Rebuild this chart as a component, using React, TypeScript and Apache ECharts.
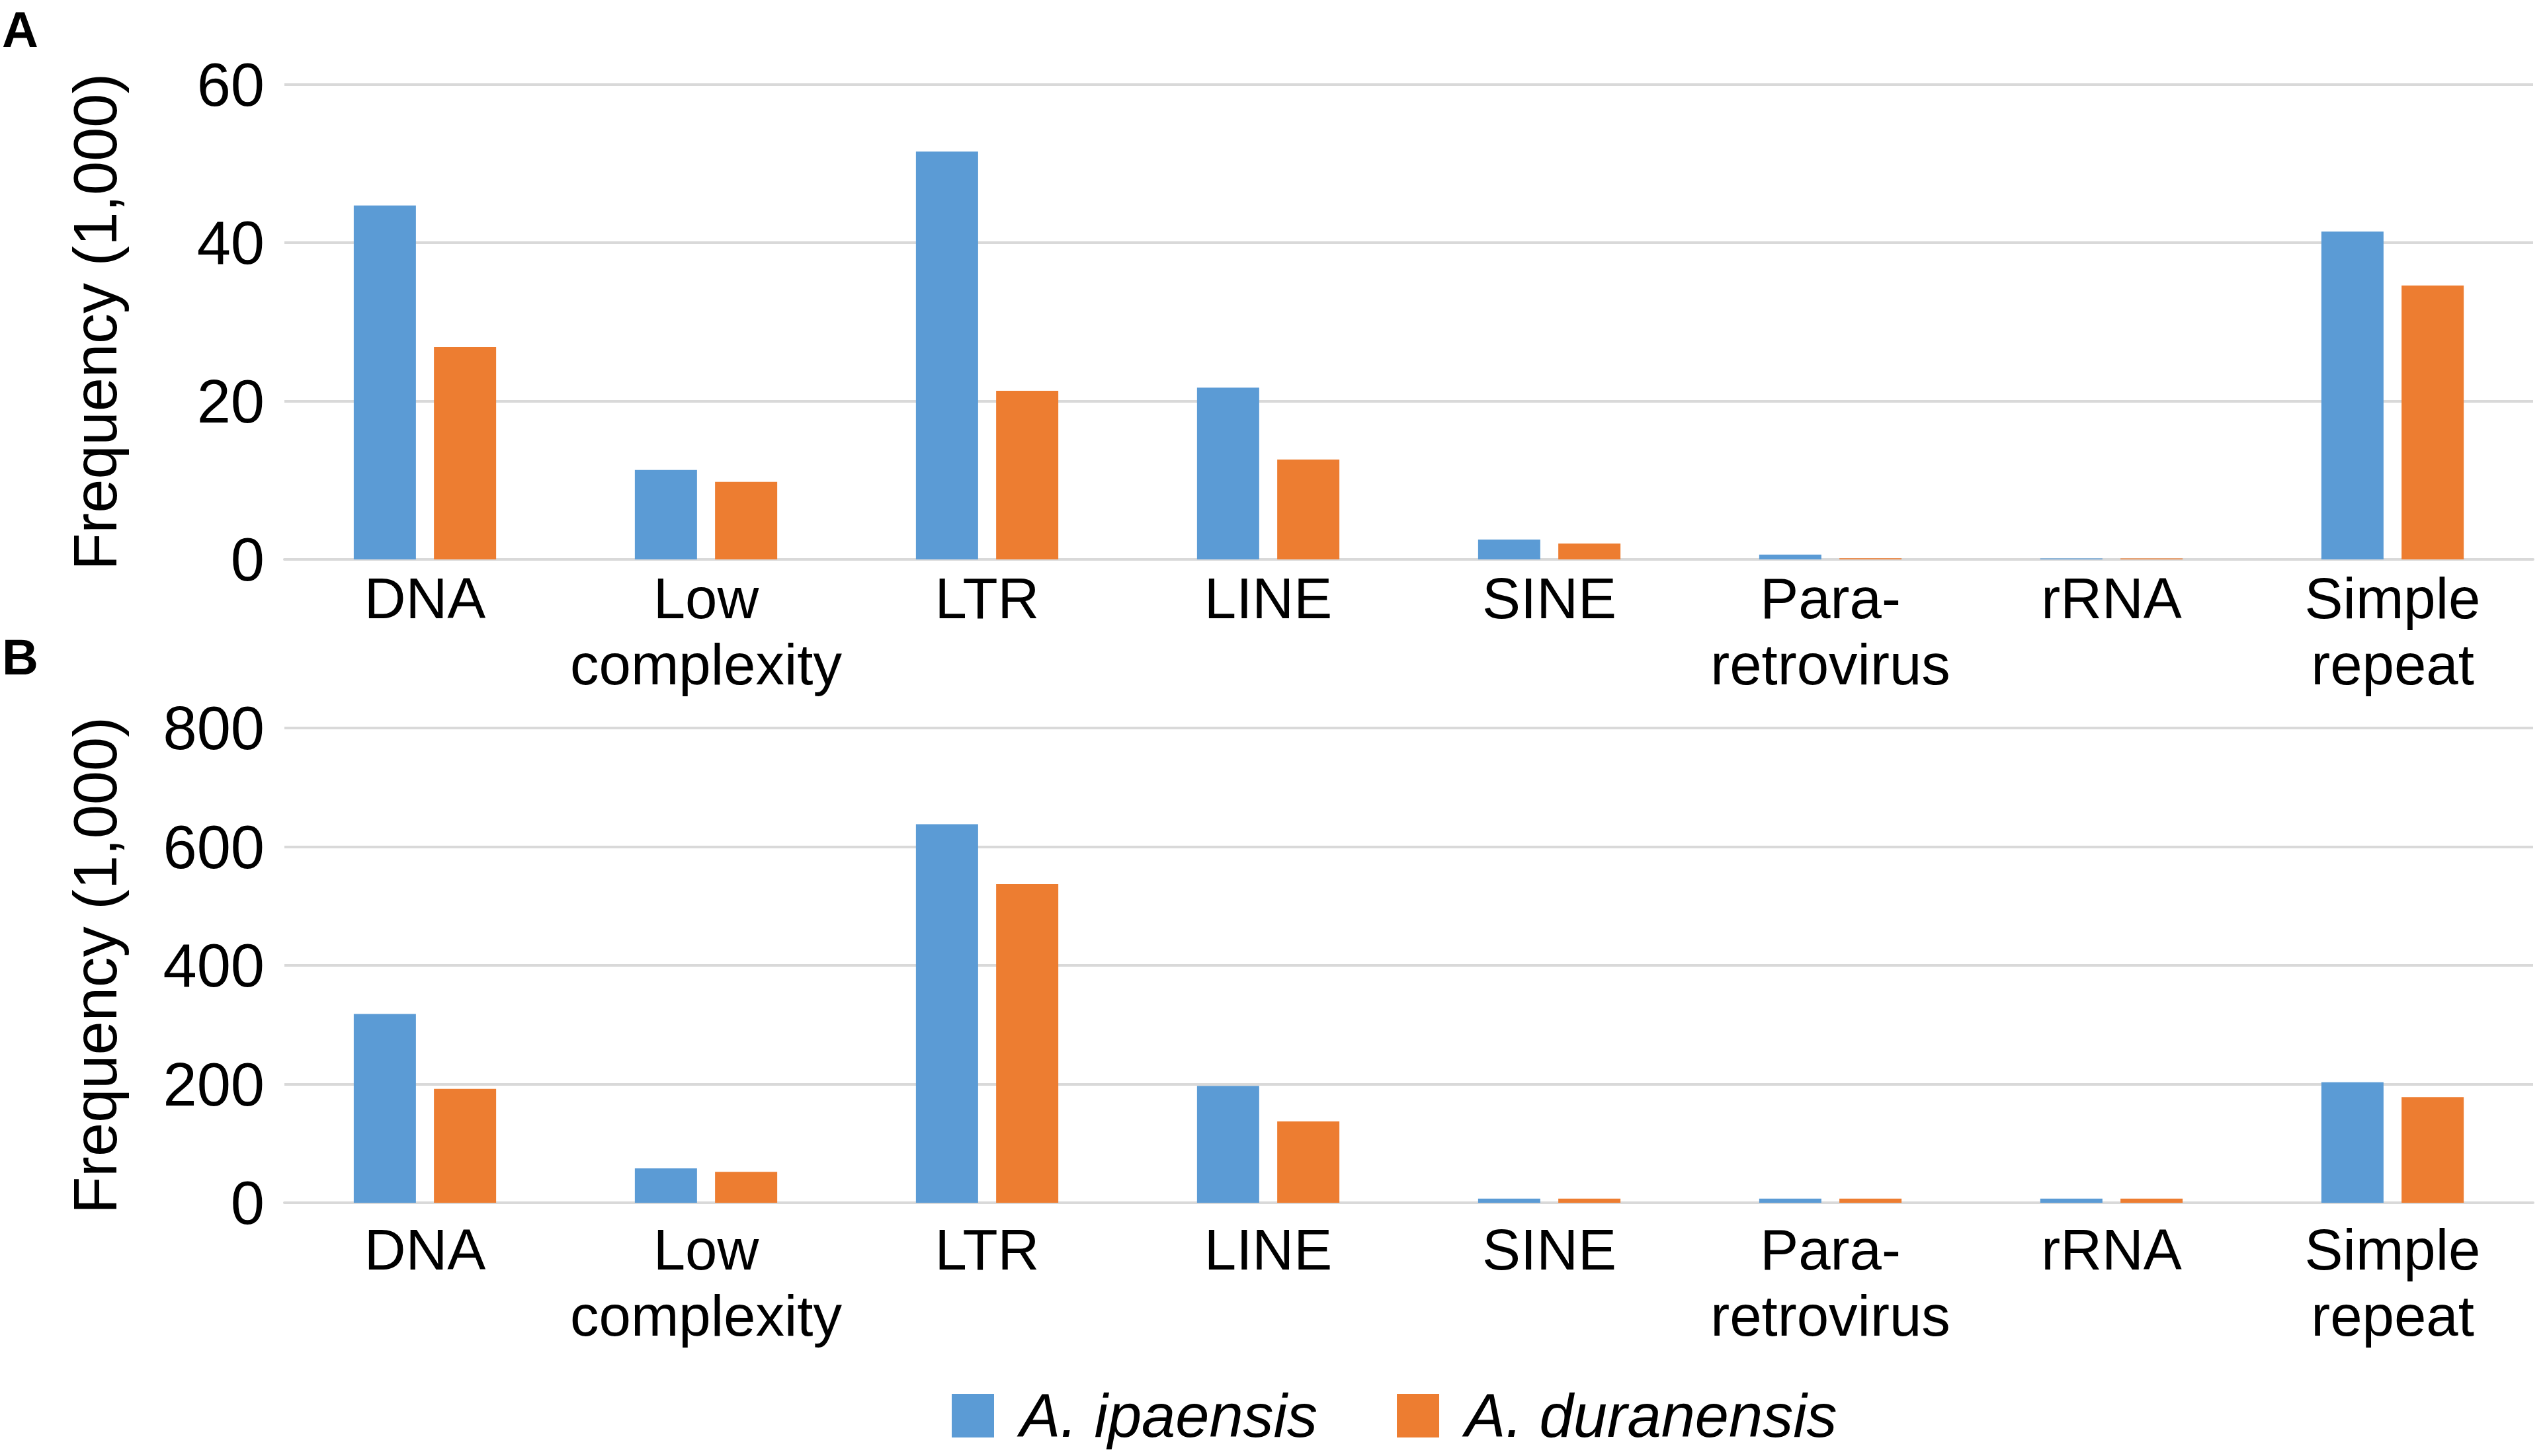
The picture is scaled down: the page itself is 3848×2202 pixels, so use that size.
import React, { useEffect, useRef } from "react";
import * as echarts from "echarts";

const categories = [
  "DNA",
  "Low\ncomplexity",
  "LTR",
  "LINE",
  "SINE",
  "Para-\nretrovirus",
  "rRNA",
  "Simple\nrepeat",
];
const seriesNames = ["A. ipaensis", "A. duranensis"];
const panelAIpaensis = [44.7, 11.3, 51.5, 21.7, 2.5, 0.6, 0.12, 41.4];
const panelADuranensis = [26.8, 9.8, 21.3, 12.6, 2.0, 0.15, 0.12, 34.6];
const panelBIpaensis = [318, 58, 638, 197, 7, 7, 7, 203];
const panelBDuranensis = [192, 52, 537, 137, 7, 7, 7, 178];
const panelATicks = { min: 0, max: 60, interval: 20 };
const panelBTicks = { min: 0, max: 800, interval: 200 };
const yTitle = "Frequency (1,000)";
const panelLabels = ["A", "B"];

const BLUE = "#5B9BD5";
const ORANGE = "#ED7D31";
const GRID = "#D9D9D9";
const FONT = "'Liberation Sans', Arial, Helvetica, sans-serif";

export default function App() {
  const ref = useRef<HTMLDivElement>(null);
  useEffect(() => {
    if (!ref.current) return;
    const chart = echarts.init(ref.current, undefined, { renderer: "svg" });
    const xAxisCommon = (gridIndex: number, margin: number) => ({
      type: "category",
      gridIndex,
      data: categories,
      axisTick: { show: false },
      axisLine: { show: true, lineStyle: { color: GRID, width: 4 } },
      axisLabel: {
        color: "#000",
        fontSize: 87,
        lineHeight: 100,
        margin,
        fontFamily: FONT,
        interval: 0,
      },
    });
    const yAxisCommon = (gridIndex: number, ticks: any) => ({
      type: "value",
      gridIndex,
      min: ticks.min,
      max: ticks.max,
      interval: ticks.interval,
      name: yTitle,
      nameLocation: "middle",
      nameRotate: 90,
      nameGap: 240,
      nameTextStyle: { color: "#000", fontSize: 92, fontFamily: FONT },
      axisLine: { show: false },
      axisTick: { show: false },
      splitLine: { show: true, lineStyle: { color: GRID, width: 4 } },
      axisLabel: { color: "#000", fontSize: 92, margin: 30, fontFamily: FONT },
    });
    const barCommon = {
      type: "bar",
      barWidth: 94,
      barGap: "29%",
    };
    chart.setOption({
      animation: false,
      textStyle: { fontFamily: FONT },
      grid: [
        { left: 430, right: 18, top: 127.5, height: 718.5 },
        { left: 430, right: 18, top: 1101, height: 718 },
      ],
      xAxis: [xAxisCommon(0, 8), xAxisCommon(1, 20)],
      yAxis: [yAxisCommon(0, panelATicks), yAxisCommon(1, panelBTicks)],
      legend: {
        left: 1434,
        top: 2090,
        itemWidth: 64,
        itemHeight: 66,
        itemGap: 120,
        icon: "rect",
        data: seriesNames,
        textStyle: {
          color: "#000",
          fontSize: 92,
          fontStyle: "italic",
          lineHeight: 92,
          fontFamily: FONT,
          padding: [0, 0, 0, 34],
        },
      },
      graphic: [
        {
          type: "text",
          left: 3,
          top: 6,
          style: { text: panelLabels[0], fontSize: 76, fontWeight: "bold", fill: "#000", fontFamily: FONT },
        },
        {
          type: "text",
          left: 3,
          top: 955,
          style: { text: panelLabels[1], fontSize: 76, fontWeight: "bold", fill: "#000", fontFamily: FONT },
        },
      ],
      series: [
        { ...barCommon, name: seriesNames[0], xAxisIndex: 0, yAxisIndex: 0, data: panelAIpaensis, itemStyle: { color: BLUE } },
        { ...barCommon, name: seriesNames[1], xAxisIndex: 0, yAxisIndex: 0, data: panelADuranensis, itemStyle: { color: ORANGE } },
        { ...barCommon, name: seriesNames[0], xAxisIndex: 1, yAxisIndex: 1, data: panelBIpaensis, itemStyle: { color: BLUE } },
        { ...barCommon, name: seriesNames[1], xAxisIndex: 1, yAxisIndex: 1, data: panelBDuranensis, itemStyle: { color: ORANGE } },
      ],
    });
    return () => chart.dispose();
  }, []);
  return (
    <div
      ref={ref}
      style={{ position: "fixed", left: 0, top: 0, width: 3848, height: 2202, background: "#fff" }}
    />
  );
}
